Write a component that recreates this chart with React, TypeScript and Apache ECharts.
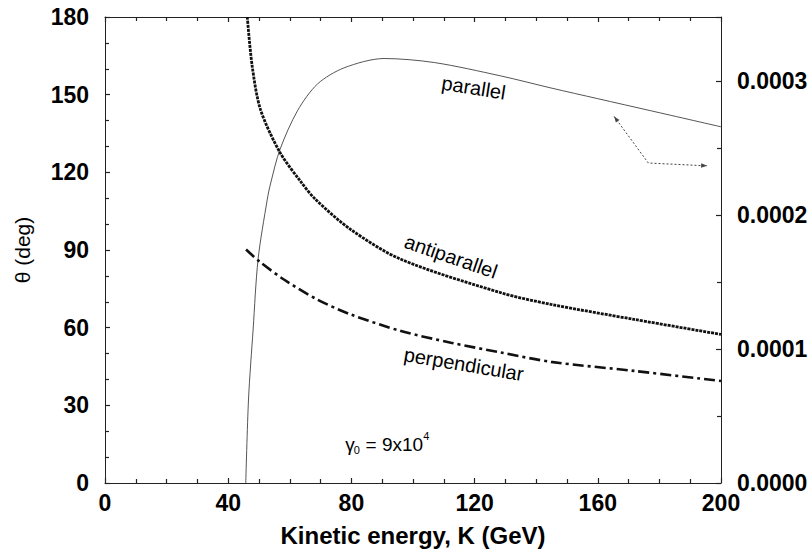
import React, { useEffect, useRef } from "react";
import * as echarts from "echarts";

// ---- data ----
// parallel curve (right axis units)
const parallelK = [45.7, 46.6, 48.1, 49.7, 52.7, 53.8, 56.8, 62.5, 69.0, 77.6, 90.6, 106.9, 128.5, 144.8, 160.0, 177.2, 200.0];
const parallelV = [0, 6.27e-5, 1.15e-4, 1.67e-4, 2.12e-4, 2.24e-4, 2.49e-4, 2.78e-4, 2.98e-4, 3.10e-4, 3.17e-4, 3.14e-4, 3.04e-4, 2.95e-4, 2.87e-4, 2.78e-4, 2.66e-4];
// antiparallel curve (deg)
const antiK = [46.2, 47.8, 50.5, 56.8, 63.5, 68.4, 79.8, 96.1, 128.5, 144.8, 171.8, 200.0];
const antiTheta = [180, 160.9, 144.2, 127.7, 116.5, 109.5, 97.9, 86.4, 73.5, 69.0, 63.2, 57.4];
// perpendicular curve (deg)
const perpK = [45.8, 50.0, 58.1, 68.9, 79.8, 96.1, 112.3, 128.5, 144.8, 171.8, 200.0];
const perpTheta = [90.2, 85.7, 78.6, 70.9, 65.1, 58.7, 54.2, 50.4, 46.8, 43.3, 39.4];

const xTicks = [0, 40, 80, 120, 160, 200];
const leftTicks = [0, 30, 60, 90, 120, 150, 180];
const rightTicks = [0, 0.0001, 0.0002, 0.0003];
const rightMax = 0.000348;

const FONT = "'Liberation Sans', Arial, Helvetica, sans-serif";

const zip = (a: number[], b: number[]) => a.map((v, i) => [v, b[i]]);

export default function App() {
  const ref = useRef<HTMLDivElement>(null);
  useEffect(() => {
    document.body.style.margin = "0";
    const chart = echarts.init(ref.current!, null, { renderer: "svg" });
    const axisLine = { show: true, onZero: false, lineStyle: { color: "#222", width: 1 } };
    const tick = { show: true, inside: true, length: 5, lineStyle: { color: "#222", width: 1.2 } };
    const minor = (n: number) => ({ show: true, splitNumber: n, length: 4, lineStyle: { color: "#222", width: 1.2 } });
    const labelStyle = { fontSize: 23, fontWeight: "bold" as const, color: "#000", fontFamily: FONT };
    const option: any = {
      animation: false,
      backgroundColor: "#fff",
      grid: { left: 105, right: 91, top: 17, bottom: 68 },
      xAxis: [
        {
          type: "value", min: xTicks[0], max: xTicks[xTicks.length - 1], interval: 40, position: "bottom",
          axisLine, axisTick: tick, minorTick: minor(4),
          splitLine: { show: false },
          axisLabel: { ...labelStyle, margin: 8 },
          name: "Kinetic energy, K (GeV)", nameLocation: "middle", nameGap: 40,
          nameTextStyle: { fontSize: 24, fontWeight: "bold", color: "#000", fontFamily: FONT },
        },
        {
          type: "value", min: xTicks[0], max: xTicks[xTicks.length - 1], interval: 40, position: "top",
          axisLine, axisTick: tick, minorTick: minor(4),
          splitLine: { show: false }, axisLabel: { show: false },
        },
      ],
      yAxis: [
        {
          type: "value", min: leftTicks[0], max: leftTicks[leftTicks.length - 1], interval: 30, position: "left",
          axisLine, axisTick: tick, minorTick: minor(3),
          splitLine: { show: false },
          axisLabel: { ...labelStyle, margin: 16 },
          name: "θ (deg)", nameLocation: "middle", nameGap: 72,
          nameTextStyle: { fontSize: 21, fontWeight: "normal", color: "#000", fontFamily: FONT },
        },
        {
          type: "value", min: rightTicks[0], max: rightMax, interval: 0.0001, position: "right",
          axisLine, axisTick: tick, minorTick: minor(2),
          splitLine: { show: false },
          axisLabel: { ...labelStyle, margin: 16, showMaxLabel: false, formatter: (v: number) => v.toFixed(4) },
        },
      ],
      series: [
        {
          name: "parallel", type: "line", xAxisIndex: 0, yAxisIndex: 1, showSymbol: false, smooth: 0.3,
          data: zip(parallelK, parallelV), lineStyle: { color: "#555", width: 1 }, clip: true,
        },
        {
          name: "antiparallel", type: "line", xAxisIndex: 0, yAxisIndex: 0, showSymbol: false, smooth: 0.3,
          data: zip(antiK, antiTheta), lineStyle: { color: "#111", width: 2.8, type: [3, 1] }, clip: true,
        },
        {
          name: "perpendicular", type: "line", xAxisIndex: 0, yAxisIndex: 0, showSymbol: false, smooth: 0.3,
          data: zip(perpK, perpTheta), lineStyle: { color: "#111", width: 2.6, type: [11, 4, 3, 4] }, clip: true,
        },
      ],
    };
    chart.setOption(option);

    const px = (k: number, t: number) => chart.convertToPixel({ seriesIndex: 1 }, [k, t]) as number[];
    const deg = (d: number) => (d * Math.PI) / 180;
    const txt = (k: number, t: number, s: string, rotDeg: number, size = 20) => {
      const [x, y] = px(k, t);
      return {
        type: "text", x, y, rotation: deg(rotDeg), z: 10,
        style: { text: s, fontSize: size, fontFamily: FONT, fill: "#000", align: "center", verticalAlign: "middle" },
      };
    };
    const head = (tip: number[], from: number[]) => {
      const dx = tip[0] - from[0], dy = tip[1] - from[1];
      const L = Math.hypot(dx, dy);
      const ux = dx / L, uy = dy / L, nx = -uy, ny = ux;
      return {
        type: "polygon", z: 10,
        shape: { points: [tip, [tip[0] - 6 * ux + 2.2 * nx, tip[1] - 6 * uy + 2.2 * ny], [tip[0] - 6 * ux - 2.2 * nx, tip[1] - 6 * uy - 2.2 * ny]] },
        style: { fill: "#444" },
      };
    };
    const corner = px(176.4, 123.6);
    const tip1 = px(165.3, 141.6);
    const tip2 = px(195.5, 122.5);
    const g = px(78, 15);
    chart.setOption({
      graphic: [
        txt(119.7, 152.7, "parallel", -9),
        txt(112.3, 87.5, "antiparallel", -19),
        txt(116.5, 45.9, "perpendicular", -9.5),
        {
          type: "polyline", z: 10, shape: { points: [tip1, corner, tip2] },
          style: { stroke: "#444", lineWidth: 1, lineDash: [2, 2], fill: null },
        },
        head(tip1, corner),
        head(tip2, corner),
        {
          type: "group", x: g[0], y: g[1], z: 10,
          children: [
            { type: "text", x: 0, y: 0, style: { text: "γ", fontSize: 19, fontFamily: FONT, fill: "#000", align: "left", verticalAlign: "middle" } },
            { type: "text", x: 8.5, y: 6, style: { text: "0", fontSize: 11, fontFamily: FONT, fill: "#000", align: "left", verticalAlign: "middle" } },
            { type: "text", x: 15, y: 0, style: { text: " = 9x10", fontSize: 19, fontFamily: FONT, fill: "#000", align: "left", verticalAlign: "middle" } },
            { type: "text", x: 78, y: -8, style: { text: "4", fontSize: 11, fontFamily: FONT, fill: "#000", align: "left", verticalAlign: "middle" } },
          ],
        },
      ],
    });
    return () => chart.dispose();
  }, []);
  return <div ref={ref} style={{ width: 812, height: 552 }} />;
}
